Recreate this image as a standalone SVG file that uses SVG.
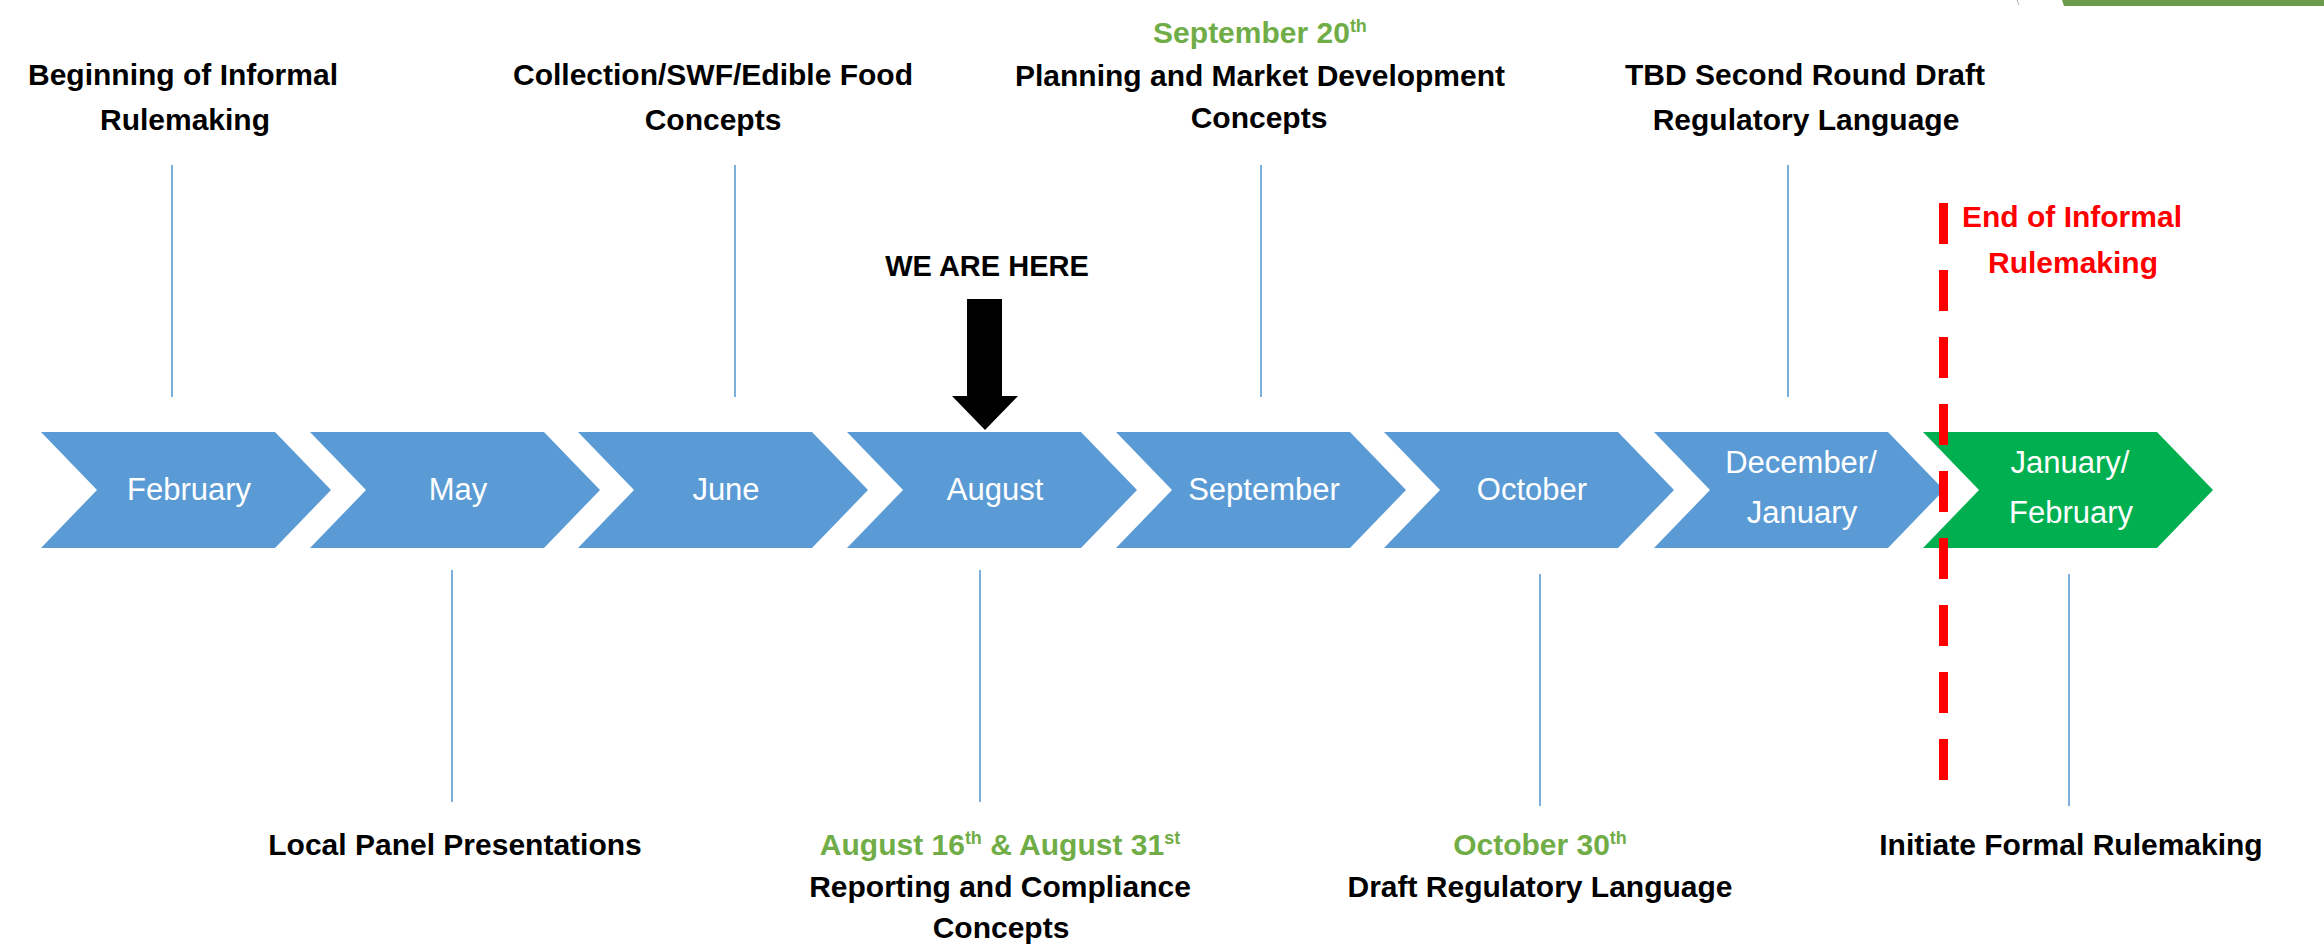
<svg xmlns="http://www.w3.org/2000/svg" width="2324" height="950" viewBox="0 0 2324 950">
  <style>
    .chev { fill: #5B9BD5; }
    .chev.green { fill: #00B050; }
    .ctext { font-family: "Liberation Sans", Arial, sans-serif; font-size: 31px; fill: #FFFFFF; text-anchor: middle; }
    .lbl { font-family: "Liberation Sans", Arial, sans-serif; font-size: 30px; font-weight: bold; fill: #000000; text-anchor: middle; }
    .date { fill: #70AD47; }
    .red { fill: #FF0000; }
    .sup { font-size: 18px; }
    .tick { stroke: #5B9BD5; stroke-width: 1.6; fill: none; }
  </style>
  <defs>
    <polygon id="chevShape" points="0,432 234,432 290,490 234,548 0,548 56,490"/>
  </defs>

  <rect x="0" y="0" width="2324" height="950" fill="#FFFFFF"/>

  <!-- slide corner artifact -->
  <polygon points="2062,0 2324,0 2324,6 2064,6" fill="#6B9B4B"/>
  <line x1="2017" y1="0" x2="2019" y2="5" stroke="#B0B0B0" stroke-width="1"/>

  <!-- connectors: tick lines -->
  <g id="connectors">
    <line class="tick" x1="172" y1="165" x2="172" y2="397"/>
    <line class="tick" x1="735" y1="165" x2="735" y2="397"/>
    <line class="tick" x1="1261" y1="165" x2="1261" y2="397"/>
    <line class="tick" x1="1788" y1="165" x2="1788" y2="397"/>
    <line class="tick" x1="452" y1="570" x2="452" y2="802"/>
    <line class="tick" x1="980" y1="570" x2="980" y2="802"/>
    <line class="tick" x1="1540" y1="574" x2="1540" y2="806"/>
    <line class="tick" x1="2069" y1="574" x2="2069" y2="806"/>
  </g>

  <!-- chevrons -->
  <g id="chev-february"><use href="#chevShape" class="chev" x="41"/><text class="ctext" x="189" y="500">February</text></g>
  <g id="chev-may"><use href="#chevShape" class="chev" x="310"/><text class="ctext" x="458" y="500">May</text></g>
  <g id="chev-june"><use href="#chevShape" class="chev" x="578"/><text class="ctext" x="726" y="500">June</text></g>
  <g id="chev-august"><use href="#chevShape" class="chev" x="847"/><text class="ctext" x="995" y="500">August</text></g>
  <g id="chev-september"><use href="#chevShape" class="chev" x="1116"/><text class="ctext" x="1264" y="500">September</text></g>
  <g id="chev-october"><use href="#chevShape" class="chev" x="1384"/><text class="ctext" x="1532" y="500">October</text></g>
  <g id="chev-december"><use href="#chevShape" class="chev" x="1654"/><text class="ctext" x="1801" y="473">December/</text><text class="ctext" x="1802" y="523">January</text></g>
  <g id="chev-january"><use href="#chevShape" class="chev green" x="1923"/><text class="ctext" x="2070" y="473">January/</text><text class="ctext" x="2071" y="523">February</text></g>

  <!-- top labels -->
  <g id="lbl-beginning">
    <text class="lbl" x="183" y="85">Beginning of Informal</text>
    <text class="lbl" x="185" y="130">Rulemaking</text>
  </g>
  <g id="lbl-collection">
    <text class="lbl" x="713" y="85">Collection/SWF/Edible Food</text>
    <text class="lbl" x="713" y="130">Concepts</text>
  </g>
  <g id="lbl-planning">
    <text class="lbl date" x="1260" y="43">September 20<tspan class="sup" dy="-11">th</tspan></text>
    <text class="lbl" x="1260" y="86">Planning and Market Development</text>
    <text class="lbl" x="1259" y="128">Concepts</text>
  </g>
  <g id="lbl-tbd">
    <text class="lbl" x="1805" y="85">TBD Second Round Draft</text>
    <text class="lbl" x="1806" y="130">Regulatory Language</text>
  </g>

  <!-- we are here -->
  <g id="we-are-here">
    <text class="lbl" x="987" y="276" style="font-size:29px">WE ARE HERE</text>
    <polygon points="967,299 1002,299 1002,396 1018,396 985,430 952,396 967,396" fill="#000000"/>
  </g>

  <!-- end of informal rulemaking -->
  <g id="end-informal">
    <line x1="1943.5" y1="203" x2="1943.5" y2="781" stroke="#FF0000" stroke-width="9" stroke-dasharray="41 26"/>
    <text class="lbl red" x="2072" y="227">End of Informal</text>
    <text class="lbl red" x="2073" y="273">Rulemaking</text>
  </g>

  <!-- bottom labels -->
  <g id="lbl-local">
    <text class="lbl" x="455" y="855">Local Panel Presentations</text>
  </g>
  <g id="lbl-reporting">
    <text class="lbl date" x="1000" y="855">August 16<tspan class="sup" dy="-11">th</tspan><tspan dy="11"> &amp; August 31</tspan><tspan class="sup" dy="-11">st</tspan></text>
    <text class="lbl" x="1000" y="897">Reporting and Compliance</text>
    <text class="lbl" x="1001" y="938">Concepts</text>
  </g>
  <g id="lbl-draft">
    <text class="lbl date" x="1540" y="855">October 30<tspan class="sup" dy="-11">th</tspan></text>
    <text class="lbl" x="1540" y="897">Draft Regulatory Language</text>
  </g>
  <g id="lbl-initiate">
    <text class="lbl" x="2071" y="855">Initiate Formal Rulemaking</text>
  </g>
</svg>
